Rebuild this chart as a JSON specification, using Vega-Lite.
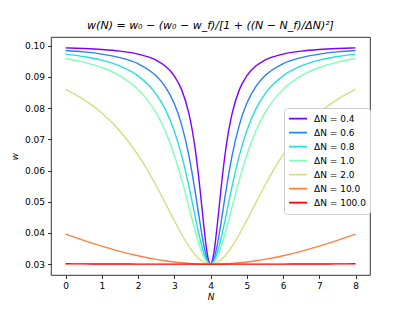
{
  "$schema": "https://vega.github.io/schema/vega-lite/v6.json",
  "width": 319,
  "height": 238,
  "autosize": {"type": "none"},
  "padding": {"left": 51, "top": 37, "right": 42, "bottom": 34},
  "background": "white",
  "title": {
    "text": "w(N) = w₀ − (w₀ − w_f)/[1 + ((N − N_f)/ΔN)²]",
    "font": "DejaVu Sans",
    "fontSize": 11,
    "fontWeight": "normal",
    "fontStyle": "italic",
    "color": "black",
    "offset": 6,
    "anchor": "middle"
  },
  "config": {
    "view": {"stroke": "black", "strokeWidth": 0.8},
    "axis": {
      "domain": false,
      "grid": false,
      "tickColor": "black",
      "tickSize": 3.5,
      "tickWidth": 0.8,
      "labelFont": "DejaVu Sans",
      "labelFontSize": 9,
      "labelColor": "black",
      "labelPadding": 3,
      "titleFont": "DejaVu Sans",
      "titleFontSize": 9,
      "titleFontWeight": "normal",
      "titleFontStyle": "italic",
      "titleColor": "black"
    }
  },
  "data": {
    "values": [
      {"N":0,"s":"ΔN = 0.4","w":0.09931},{"N":0.5,"s":"ΔN = 0.4","w":0.0991},{"N":1,"s":"ΔN = 0.4","w":0.09878},{"N":1.5,"s":"ΔN = 0.4","w":0.09825},{"N":2,"s":"ΔN = 0.4","w":0.09731},{"N":2.5,"s":"ΔN = 0.4","w":0.09535},{"N":2.75,"s":"ΔN = 0.4","w":0.0935},{"N":3,"s":"ΔN = 0.4","w":0.09034},{"N":3.2,"s":"ΔN = 0.4","w":0.086},{"N":3.4,"s":"ΔN = 0.4","w":0.07846},{"N":3.5,"s":"ΔN = 0.4","w":0.07268},{"N":3.6,"s":"ΔN = 0.4","w":0.065},{"N":3.7,"s":"ΔN = 0.4","w":0.0552},{"N":3.8,"s":"ΔN = 0.4","w":0.044},{"N":3.9,"s":"ΔN = 0.4","w":0.03412},{"N":3.95,"s":"ΔN = 0.4","w":0.03108},{"N":4,"s":"ΔN = 0.4","w":0.03},{"N":4.05,"s":"ΔN = 0.4","w":0.03108},{"N":4.1,"s":"ΔN = 0.4","w":0.03412},{"N":4.2,"s":"ΔN = 0.4","w":0.044},{"N":4.3,"s":"ΔN = 0.4","w":0.0552},{"N":4.4,"s":"ΔN = 0.4","w":0.065},{"N":4.5,"s":"ΔN = 0.4","w":0.07268},{"N":4.6,"s":"ΔN = 0.4","w":0.07846},{"N":4.8,"s":"ΔN = 0.4","w":0.086},{"N":5,"s":"ΔN = 0.4","w":0.09034},{"N":5.25,"s":"ΔN = 0.4","w":0.0935},{"N":5.5,"s":"ΔN = 0.4","w":0.09535},{"N":6,"s":"ΔN = 0.4","w":0.09731},{"N":6.5,"s":"ΔN = 0.4","w":0.09825},{"N":7,"s":"ΔN = 0.4","w":0.09878},{"N":7.5,"s":"ΔN = 0.4","w":0.0991},{"N":8,"s":"ΔN = 0.4","w":0.09931},
      {"N":0,"s":"ΔN = 0.6","w":0.09846},{"N":0.5,"s":"ΔN = 0.6","w":0.098},{"N":1,"s":"ΔN = 0.6","w":0.09731},{"N":1.5,"s":"ΔN = 0.6","w":0.09619},{"N":2,"s":"ΔN = 0.6","w":0.09422},{"N":2.5,"s":"ΔN = 0.6","w":0.09034},{"N":2.75,"s":"ΔN = 0.6","w":0.08689},{"N":3,"s":"ΔN = 0.6","w":0.08147},{"N":3.2,"s":"ΔN = 0.6","w":0.0748},{"N":3.4,"s":"ΔN = 0.6","w":0.065},{"N":3.5,"s":"ΔN = 0.6","w":0.05869},{"N":3.6,"s":"ΔN = 0.6","w":0.05154},{"N":3.7,"s":"ΔN = 0.6","w":0.044},{"N":3.8,"s":"ΔN = 0.6","w":0.037},{"N":3.9,"s":"ΔN = 0.6","w":0.03189},{"N":3.95,"s":"ΔN = 0.6","w":0.03048},{"N":4,"s":"ΔN = 0.6","w":0.03},{"N":4.05,"s":"ΔN = 0.6","w":0.03048},{"N":4.1,"s":"ΔN = 0.6","w":0.03189},{"N":4.2,"s":"ΔN = 0.6","w":0.037},{"N":4.3,"s":"ΔN = 0.6","w":0.044},{"N":4.4,"s":"ΔN = 0.6","w":0.05154},{"N":4.5,"s":"ΔN = 0.6","w":0.05869},{"N":4.6,"s":"ΔN = 0.6","w":0.065},{"N":4.8,"s":"ΔN = 0.6","w":0.0748},{"N":5,"s":"ΔN = 0.6","w":0.08147},{"N":5.25,"s":"ΔN = 0.6","w":0.08689},{"N":5.5,"s":"ΔN = 0.6","w":0.09034},{"N":6,"s":"ΔN = 0.6","w":0.09422},{"N":6.5,"s":"ΔN = 0.6","w":0.09619},{"N":7,"s":"ΔN = 0.6","w":0.09731},{"N":7.5,"s":"ΔN = 0.6","w":0.098},{"N":8,"s":"ΔN = 0.6","w":0.09846},
      {"N":0,"s":"ΔN = 0.8","w":0.09731},{"N":0.5,"s":"ΔN = 0.8","w":0.09652},{"N":1,"s":"ΔN = 0.8","w":0.09535},{"N":1.5,"s":"ΔN = 0.8","w":0.0935},{"N":2,"s":"ΔN = 0.8","w":0.09034},{"N":2.5,"s":"ΔN = 0.8","w":0.0845},{"N":2.75,"s":"ΔN = 0.8","w":0.07966},{"N":3,"s":"ΔN = 0.8","w":0.07268},{"N":3.2,"s":"ΔN = 0.8","w":0.065},{"N":3.4,"s":"ΔN = 0.8","w":0.0552},{"N":3.5,"s":"ΔN = 0.8","w":0.04966},{"N":3.6,"s":"ΔN = 0.8","w":0.044},{"N":3.7,"s":"ΔN = 0.8","w":0.03863},{"N":3.8,"s":"ΔN = 0.8","w":0.03412},{"N":3.9,"s":"ΔN = 0.8","w":0.03108},{"N":3.95,"s":"ΔN = 0.8","w":0.03027},{"N":4,"s":"ΔN = 0.8","w":0.03},{"N":4.05,"s":"ΔN = 0.8","w":0.03027},{"N":4.1,"s":"ΔN = 0.8","w":0.03108},{"N":4.2,"s":"ΔN = 0.8","w":0.03412},{"N":4.3,"s":"ΔN = 0.8","w":0.03863},{"N":4.4,"s":"ΔN = 0.8","w":0.044},{"N":4.5,"s":"ΔN = 0.8","w":0.04966},{"N":4.6,"s":"ΔN = 0.8","w":0.0552},{"N":4.8,"s":"ΔN = 0.8","w":0.065},{"N":5,"s":"ΔN = 0.8","w":0.07268},{"N":5.25,"s":"ΔN = 0.8","w":0.07966},{"N":5.5,"s":"ΔN = 0.8","w":0.0845},{"N":6,"s":"ΔN = 0.8","w":0.09034},{"N":6.5,"s":"ΔN = 0.8","w":0.0935},{"N":7,"s":"ΔN = 0.8","w":0.09535},{"N":7.5,"s":"ΔN = 0.8","w":0.09652},{"N":8,"s":"ΔN = 0.8","w":0.09731},
      {"N":0,"s":"ΔN = 1.0","w":0.09588},{"N":0.5,"s":"ΔN = 1.0","w":0.09472},{"N":1,"s":"ΔN = 1.0","w":0.093},{"N":1.5,"s":"ΔN = 1.0","w":0.09034},{"N":2,"s":"ΔN = 1.0","w":0.086},{"N":2.5,"s":"ΔN = 1.0","w":0.07846},{"N":2.75,"s":"ΔN = 1.0","w":0.07268},{"N":3,"s":"ΔN = 1.0","w":0.065},{"N":3.2,"s":"ΔN = 1.0","w":0.05732},{"N":3.4,"s":"ΔN = 1.0","w":0.04853},{"N":3.5,"s":"ΔN = 1.0","w":0.044},{"N":3.6,"s":"ΔN = 1.0","w":0.03966},{"N":3.7,"s":"ΔN = 1.0","w":0.03578},{"N":3.8,"s":"ΔN = 1.0","w":0.03269},{"N":3.9,"s":"ΔN = 1.0","w":0.03069},{"N":3.95,"s":"ΔN = 1.0","w":0.03017},{"N":4,"s":"ΔN = 1.0","w":0.03},{"N":4.05,"s":"ΔN = 1.0","w":0.03017},{"N":4.1,"s":"ΔN = 1.0","w":0.03069},{"N":4.2,"s":"ΔN = 1.0","w":0.03269},{"N":4.3,"s":"ΔN = 1.0","w":0.03578},{"N":4.4,"s":"ΔN = 1.0","w":0.03966},{"N":4.5,"s":"ΔN = 1.0","w":0.044},{"N":4.6,"s":"ΔN = 1.0","w":0.04853},{"N":4.8,"s":"ΔN = 1.0","w":0.05732},{"N":5,"s":"ΔN = 1.0","w":0.065},{"N":5.25,"s":"ΔN = 1.0","w":0.07268},{"N":5.5,"s":"ΔN = 1.0","w":0.07846},{"N":6,"s":"ΔN = 1.0","w":0.086},{"N":6.5,"s":"ΔN = 1.0","w":0.09034},{"N":7,"s":"ΔN = 1.0","w":0.093},{"N":7.5,"s":"ΔN = 1.0","w":0.09472},{"N":8,"s":"ΔN = 1.0","w":0.09588},
      {"N":0,"s":"ΔN = 2.0","w":0.086},{"N":0.5,"s":"ΔN = 2.0","w":0.08277},{"N":1,"s":"ΔN = 2.0","w":0.07846},{"N":1.5,"s":"ΔN = 2.0","w":0.07268},{"N":2,"s":"ΔN = 2.0","w":0.065},{"N":2.5,"s":"ΔN = 2.0","w":0.0552},{"N":2.75,"s":"ΔN = 2.0","w":0.04966},{"N":3,"s":"ΔN = 2.0","w":0.044},{"N":3.2,"s":"ΔN = 2.0","w":0.03966},{"N":3.4,"s":"ΔN = 2.0","w":0.03578},{"N":3.5,"s":"ΔN = 2.0","w":0.03412},{"N":3.6,"s":"ΔN = 2.0","w":0.03269},{"N":3.7,"s":"ΔN = 2.0","w":0.03154},{"N":3.8,"s":"ΔN = 2.0","w":0.03069},{"N":3.9,"s":"ΔN = 2.0","w":0.03017},{"N":3.95,"s":"ΔN = 2.0","w":0.03004},{"N":4,"s":"ΔN = 2.0","w":0.03},{"N":4.05,"s":"ΔN = 2.0","w":0.03004},{"N":4.1,"s":"ΔN = 2.0","w":0.03017},{"N":4.2,"s":"ΔN = 2.0","w":0.03069},{"N":4.3,"s":"ΔN = 2.0","w":0.03154},{"N":4.4,"s":"ΔN = 2.0","w":0.03269},{"N":4.5,"s":"ΔN = 2.0","w":0.03412},{"N":4.6,"s":"ΔN = 2.0","w":0.03578},{"N":4.8,"s":"ΔN = 2.0","w":0.03966},{"N":5,"s":"ΔN = 2.0","w":0.044},{"N":5.25,"s":"ΔN = 2.0","w":0.04966},{"N":5.5,"s":"ΔN = 2.0","w":0.0552},{"N":6,"s":"ΔN = 2.0","w":0.065},{"N":6.5,"s":"ΔN = 2.0","w":0.07268},{"N":7,"s":"ΔN = 2.0","w":0.07846},{"N":7.5,"s":"ΔN = 2.0","w":0.08277},{"N":8,"s":"ΔN = 2.0","w":0.086},
      {"N":0,"s":"ΔN = 10.0","w":0.03966},{"N":0.5,"s":"ΔN = 10.0","w":0.03764},{"N":1,"s":"ΔN = 10.0","w":0.03578},{"N":1.5,"s":"ΔN = 10.0","w":0.03412},{"N":2,"s":"ΔN = 10.0","w":0.03269},{"N":2.5,"s":"ΔN = 10.0","w":0.03154},{"N":2.75,"s":"ΔN = 10.0","w":0.031077},{"N":3,"s":"ΔN = 10.0","w":0.030693},{"N":3.2,"s":"ΔN = 10.0","w":0.030445},{"N":3.4,"s":"ΔN = 10.0","w":0.030251},{"N":3.5,"s":"ΔN = 10.0","w":0.030175},{"N":3.6,"s":"ΔN = 10.0","w":0.030112},{"N":3.7,"s":"ΔN = 10.0","w":0.030063},{"N":3.8,"s":"ΔN = 10.0","w":0.030028},{"N":3.9,"s":"ΔN = 10.0","w":0.030007},{"N":3.95,"s":"ΔN = 10.0","w":0.03},{"N":4,"s":"ΔN = 10.0","w":0.03},{"N":4.05,"s":"ΔN = 10.0","w":0.03},{"N":4.1,"s":"ΔN = 10.0","w":0.030007},{"N":4.2,"s":"ΔN = 10.0","w":0.030028},{"N":4.3,"s":"ΔN = 10.0","w":0.030063},{"N":4.4,"s":"ΔN = 10.0","w":0.030112},{"N":4.5,"s":"ΔN = 10.0","w":0.030175},{"N":4.6,"s":"ΔN = 10.0","w":0.030251},{"N":4.8,"s":"ΔN = 10.0","w":0.030445},{"N":5,"s":"ΔN = 10.0","w":0.030693},{"N":5.25,"s":"ΔN = 10.0","w":0.031077},{"N":5.5,"s":"ΔN = 10.0","w":0.03154},{"N":6,"s":"ΔN = 10.0","w":0.03269},{"N":6.5,"s":"ΔN = 10.0","w":0.03412},{"N":7,"s":"ΔN = 10.0","w":0.03578},{"N":7.5,"s":"ΔN = 10.0","w":0.03764},{"N":8,"s":"ΔN = 10.0","w":0.03966},
      {"N":0,"s":"ΔN = 100.0","w":0.030112},{"N":0.5,"s":"ΔN = 100.0","w":0.030086},{"N":1,"s":"ΔN = 100.0","w":0.030063},{"N":1.5,"s":"ΔN = 100.0","w":0.030044},{"N":2,"s":"ΔN = 100.0","w":0.030028},{"N":2.5,"s":"ΔN = 100.0","w":0.030016},{"N":2.75,"s":"ΔN = 100.0","w":0.030011},{"N":3,"s":"ΔN = 100.0","w":0.030007},{"N":3.2,"s":"ΔN = 100.0","w":0.030004},{"N":3.4,"s":"ΔN = 100.0","w":0.030003},{"N":3.5,"s":"ΔN = 100.0","w":0.030002},{"N":3.6,"s":"ΔN = 100.0","w":0.030001},{"N":3.7,"s":"ΔN = 100.0","w":0.030001},{"N":3.8,"s":"ΔN = 100.0","w":0.03},{"N":3.9,"s":"ΔN = 100.0","w":0.03},{"N":3.95,"s":"ΔN = 100.0","w":0.03},{"N":4,"s":"ΔN = 100.0","w":0.03},{"N":4.05,"s":"ΔN = 100.0","w":0.03},{"N":4.1,"s":"ΔN = 100.0","w":0.03},{"N":4.2,"s":"ΔN = 100.0","w":0.03},{"N":4.3,"s":"ΔN = 100.0","w":0.030001},{"N":4.4,"s":"ΔN = 100.0","w":0.030001},{"N":4.5,"s":"ΔN = 100.0","w":0.030002},{"N":4.6,"s":"ΔN = 100.0","w":0.030003},{"N":4.8,"s":"ΔN = 100.0","w":0.030004},{"N":5,"s":"ΔN = 100.0","w":0.030007},{"N":5.25,"s":"ΔN = 100.0","w":0.030011},{"N":5.5,"s":"ΔN = 100.0","w":0.030016},{"N":6,"s":"ΔN = 100.0","w":0.030028},{"N":6.5,"s":"ΔN = 100.0","w":0.030044},{"N":7,"s":"ΔN = 100.0","w":0.030063},{"N":7.5,"s":"ΔN = 100.0","w":0.030086},{"N":8,"s":"ΔN = 100.0","w":0.030112}
    ]
  },
  "mark": {"type": "line", "strokeWidth": 1.4, "interpolate": "monotone", "clip": true},
  "encoding": {
    "x": {
      "field": "N", "type": "quantitative",
      "scale": {"domain": [-0.4, 8.4], "nice": false, "zero": false},
      "axis": {"values": [0,1,2,3,4,5,6,7,8], "format": "d", "title": "N", "titlePadding": 2}
    },
    "y": {
      "field": "w", "type": "quantitative",
      "scale": {"domain": [0.02653, 0.10278], "nice": false, "zero": false},
      "axis": {"values": [0.03,0.04,0.05,0.06,0.07,0.08,0.09,0.10], "format": ".2f", "title": "w", "titlePadding": 5}
    },
    "color": {
      "field": "s", "type": "nominal",
      "scale": {
        "domain": ["ΔN = 0.4","ΔN = 0.6","ΔN = 0.8","ΔN = 1.0","ΔN = 2.0","ΔN = 10.0","ΔN = 100.0"],
        "range": ["#8000ff","#2a7ff6","#2adddd","#80ffb4","#d4dd80","#ff7f42","#ff0000"]
      },
      "legend": {
        "title": null,
        "orient": "none",
        "legendX": 233,
        "legendY": 71,
        "fillColor": "white",
        "strokeColor": "#cccccc",
        "cornerRadius": 3,
        "padding": 4,
        "symbolType": "stroke",
        "symbolSize": 324,
        "symbolStrokeWidth": 1.8,
        "labelFont": "DejaVu Sans",
        "labelFontSize": 9,
        "labelColor": "black",
        "labelOffset": 6,
        "clipHeight": 13.3,
        "rowPadding": 0
      }
    }
  }
}
